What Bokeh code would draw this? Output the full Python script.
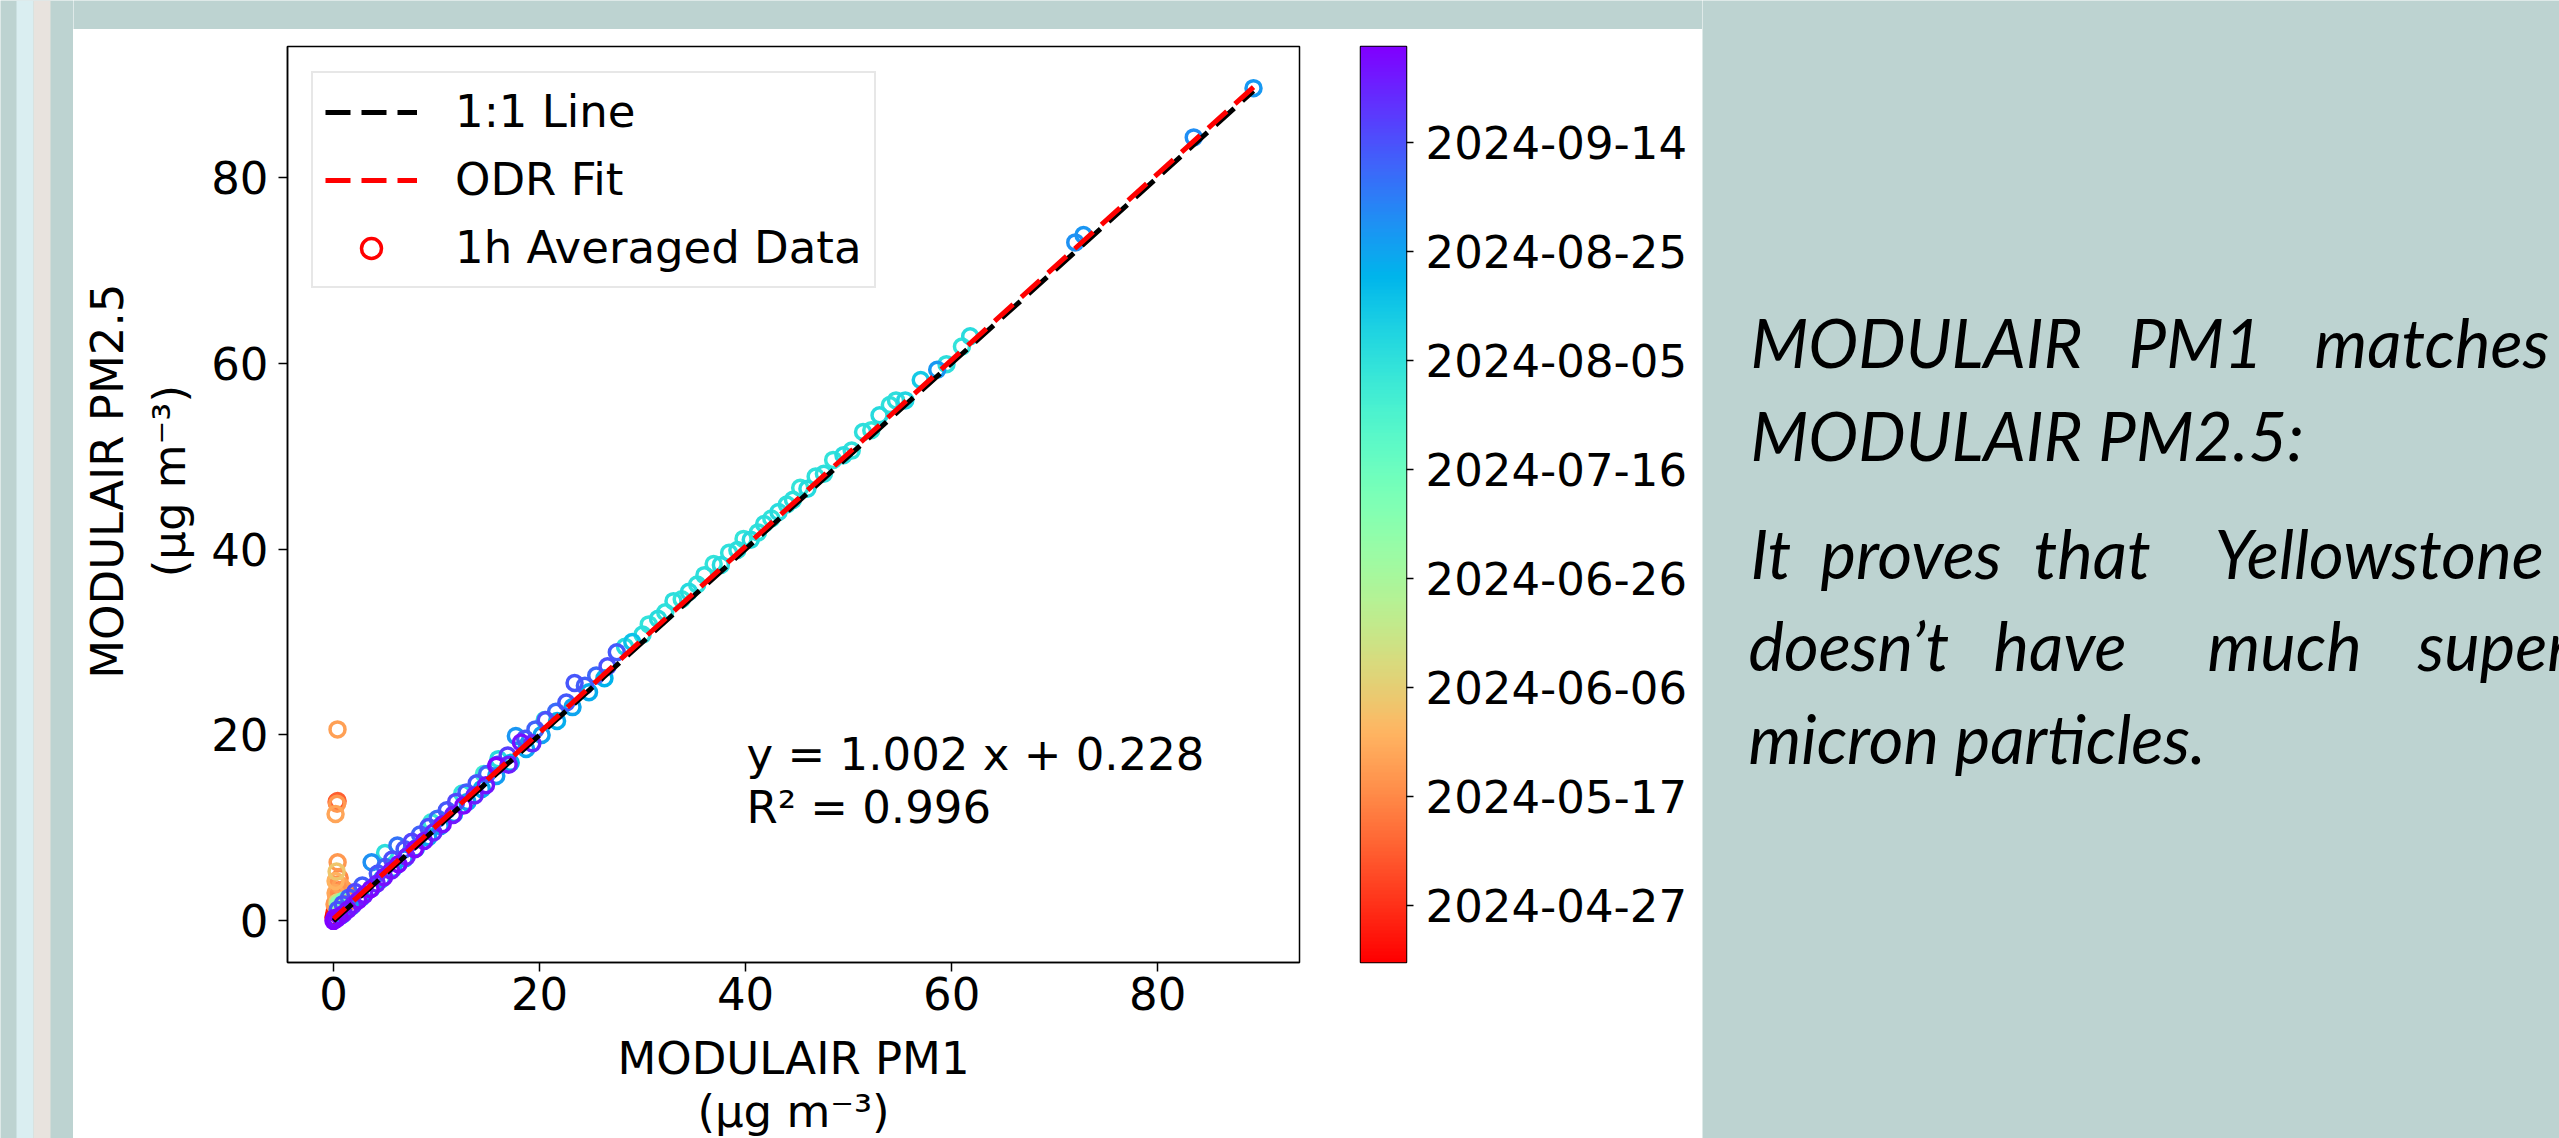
import numpy as np
import pandas as pd
from bokeh.plotting import figure
from bokeh.layouts import row, column
from bokeh.models import Range1d, LinearColorMapper, Legend, LegendItem, FixedTicker
from bokeh.core.properties import value
from bokeh.embed import file_html
from bokeh.resources import INLINE

# ---------------- data ----------------
pm1 = [
    # late September (purple), along / just below the 1:1 line
    0.0, 0.1, 0.3, 0.6, 1.0, 1.4, 1.9, 2.4, 3.0, 3.6, 4.2, 4.9, 5.6, 6.3, 7.1, 7.9,
    8.8, 9.7, 10.6, 11.6, 12.6, 13.7, 14.8, 15.8, 17.0, 18.2, 19.3,
    # mid September (blue), just above the line
    0.4, 0.9, 1.5, 2.1, 2.8, 3.7, 4.3, 5.0, 5.7, 6.2, 6.9, 7.6, 8.4, 9.2, 10.1, 11.0,
    11.9, 12.9, 13.9, 14.9, 15.9, 16.9, 17.7, 18.6, 19.6, 20.6, 21.6, 22.6, 23.4, 24.4,
    25.5, 26.6, 27.5,
    # late August (cyan)
    0.8, 1.7, 2.7, 3.7, 4.7, 5.8, 6.9, 8.0, 9.2, 10.4, 11.7, 13.0, 14.4, 15.8, 17.2,
    18.7, 20.2, 21.7, 23.2, 24.8, 26.3,
    # July / early August (green, teal)
    0.5, 1.0, 5.0, 9.5, 12.5, 14.6, 16.0, 20.5, 28.3, 29.0, 30.0, 30.6, 31.5, 32.2,
    33.0, 33.8, 34.5, 35.3, 36.0, 36.9, 37.6, 38.4, 39.2, 39.8, 40.5, 41.2, 41.8, 42.5,
    43.2, 44.0, 44.6, 45.3, 46.0, 46.8, 47.6, 48.5, 49.5, 50.3, 51.4, 52.2, 53.0, 54.0,
    54.6, 55.5, 57.0, 59.5, 61.0, 61.8,
    # high values, end of August (blue-cyan)
    58.6, 72.0, 72.8, 83.5, 89.3,
    # April - June (red, orange) near PM1 = 0
    0.1, 0.3, 0.2, 0.5, 0.4, 0.2, 0.6, 0.3, 0.8, 1.0, 1.3, 0.7, 0.4, 0.2, 0.35, 0.4,
    0.39, 0.5, 0.9, 1.2, 0.3, 0.4, 0.6, 0.1, 1.5, 0.0,
]
pm25 = [
    0.0, 0.3, 0.2, 0.5, 0.8, 1.2, 1.7, 2.2, 2.8, 3.4, 4.0, 4.7, 5.4, 6.1, 6.9, 7.7,
    8.6, 9.5, 10.4, 11.4, 12.4, 13.5, 14.6, 16.7, 16.8, 19.2, 19.1,
    1.2, 1.8, 2.5, 3.1, 3.8, 6.3, 5.1, 5.8, 6.6, 8.1, 7.7, 8.5, 9.3, 10.1, 11.0, 11.9,
    12.8, 13.8, 14.8, 15.8, 16.8, 17.8, 19.9, 19.6, 20.6, 21.6, 22.5, 23.5, 25.6, 25.3,
    26.4, 27.4, 28.9,
    0.6, 1.5, 2.5, 3.5, 4.5, 5.6, 6.7, 7.8, 9.0, 10.2, 11.5, 12.8, 14.2, 15.6, 17.0,
    18.5, 20.0, 21.5, 23.0, 24.6, 26.1,
    1.8, 2.2, 7.3, 10.6, 13.7, 15.8, 17.4, 21.6, 29.5, 30.0, 30.8, 31.9, 32.5, 33.2,
    34.4, 34.6, 35.4, 36.2, 37.2, 38.4, 38.3, 39.6, 39.9, 41.1, 41.0, 41.8, 42.7, 43.3,
    44.0, 44.8, 45.3, 46.6, 46.5, 47.8, 48.1, 49.6, 50.1, 50.6, 52.6, 52.8, 54.4, 55.5,
    56.0, 56.0, 58.2, 59.9, 61.8, 62.9,
    59.3, 73.0, 73.8, 84.3, 89.6,
    1.8, 2.5, 3.0, 3.3, 3.9, 4.3, 4.6, 5.3, 2.8, 3.4, 3.0, 3.8, 6.3, 11.5, 12.6, 12.9,
    20.6, 2.2, 2.5, 2.6, 12.8, 2.0, 1.5, 0.9, 2.1, 0.4,
]
when = [
    "2024-10-01 14:00", "2024-09-29", "2024-09-27", "2024-09-30", "2024-09-26", "2024-09-28",
    "2024-09-25", "2024-09-29", "2024-09-27", "2024-09-30", "2024-09-24", "2024-09-28",
    "2024-09-26", "2024-09-29", "2024-09-25", "2024-09-30", "2024-09-27", "2024-09-23",
    "2024-09-28", "2024-09-26", "2024-09-29", "2024-09-24", "2024-09-27", "2024-09-30",
    "2024-09-25", "2024-09-28", "2024-09-22",
    "2024-09-12", "2024-09-14", "2024-09-10", "2024-09-16", "2024-09-11", "2024-08-30",
    "2024-09-13", "2024-09-09", "2024-09-15", "2024-09-06", "2024-09-12", "2024-09-17",
    "2024-09-10", "2024-09-14", "2024-09-08", "2024-09-12", "2024-09-16", "2024-09-11",
    "2024-09-13", "2024-09-09", "2024-09-15", "2024-09-18", "2024-08-29", "2024-09-12",
    "2024-09-10", "2024-09-14", "2024-09-08", "2024-09-12", "2024-09-13", "2024-09-11",
    "2024-09-09", "2024-09-14", "2024-09-12",
    "2024-08-24", "2024-08-22", "2024-08-26", "2024-08-20", "2024-08-25", "2024-08-23",
    "2024-08-27", "2024-08-21", "2024-08-24", "2024-08-26", "2024-08-22", "2024-08-25",
    "2024-08-23", "2024-08-27", "2024-08-20", "2024-08-24", "2024-08-26", "2024-08-22",
    "2024-08-25", "2024-08-23", "2024-08-21",
    "2024-07-05", "2024-07-12", "2024-08-06", "2024-08-02", "2024-08-04", "2024-07-30",
    "2024-08-07", "2024-08-05", "2024-08-08", "2024-08-16", "2024-08-06", "2024-08-04",
    "2024-08-07", "2024-08-05", "2024-08-06", "2024-08-03", "2024-08-08", "2024-08-05",
    "2024-08-06", "2024-08-04", "2024-08-07", "2024-08-05", "2024-08-06", "2024-08-03",
    "2024-08-08", "2024-08-05", "2024-08-06", "2024-08-04", "2024-08-07", "2024-08-05",
    "2024-08-06", "2024-08-03", "2024-08-08", "2024-08-05", "2024-08-06", "2024-08-04",
    "2024-08-07", "2024-08-05", "2024-08-06", "2024-08-03", "2024-08-08", "2024-08-05",
    "2024-08-06", "2024-08-10", "2024-08-14", "2024-08-06", "2024-08-04", "2024-08-07",
    "2024-08-28", "2024-08-30", "2024-08-29", "2024-08-31", "2024-08-28",
    "2024-05-22", "2024-05-18", "2024-05-25", "2024-05-15", "2024-05-20", "2024-05-28",
    "2024-05-17", "2024-06-03", "2024-05-12", "2024-05-19", "2024-05-10", "2024-05-23",
    "2024-05-21", "2024-05-24", "2024-05-21", "2024-05-07", "2024-05-23", "2024-04-28",
    "2024-05-02", "2024-05-05", "2024-05-06", "2024-06-12", "2024-06-25", "2024-04-22",
    "2024-05-14", "2024-04-16 14:00",
]

# ODR fit result printed on the chart
fit_slope = 1.002
fit_intercept = 0.228
fit_r2 = 0.996

x_ticks = [0, 20, 40, 60, 80]
y_ticks = [0, 20, 40, 60, 80]
cbar_tick_labels = ["2024-04-27", "2024-05-17", "2024-06-06", "2024-06-26",
                    "2024-07-16", "2024-08-05", "2024-08-25", "2024-09-14"]
x_title = ["MODULAIR PM1", "(\u00b5g m\u207b\u00b3)"]
y_title = ["MODULAIR PM2.5", "(\u00b5g m\u207b\u00b3)"]

# ---------------- helpers ----------------
FONT = "DejaVu Sans"
FS = "45px"
SLIDE_BG = "#BDD3D1"


def rainbow_hex(v):
    # matplotlib "rainbow" colormap
    r = min(1.0, abs(2 * v - 0.5))
    g = np.sin(v * np.pi)
    b = np.cos(v * np.pi / 2)
    return "#%02x%02x%02x" % (int(round(r * 255)), int(round(g * 255)), int(round(max(b, 0) * 255)))


# reversed rainbow: earliest = red, latest = purple
palette = [rainbow_hex(1 - i / 255) for i in range(256)]

EPOCH = pd.Timestamp("1970-01-01")
df = pd.DataFrame({"pm1": pm1, "pm25": pm25, "when": pd.to_datetime(when, format="ISO8601")})
df = df.sort_values("when").reset_index(drop=True)
df["t"] = (df["when"] - EPOCH).dt.total_seconds() / 86400.0
t_min, t_max = df["t"].min(), df["t"].max()
mapper = LinearColorMapper(palette=palette, low=t_min, high=t_max)


def pad(lo, hi, f=0.05):
    d = (hi - lo) * f
    return lo - d, hi + d


xr = pad(df["pm1"].min(), df["pm1"].max())
yr = pad(df["pm25"].min(), df["pm25"].max())


def blank(w, h, bg):
    f = figure(width=w, height=h, output_backend="svg", toolbar_location=None,
               x_axis_location=None, y_axis_location=None, min_border=0,
               outline_line_color=None, background_fill_color=bg, border_fill_color=bg,
               x_range=Range1d(0, w), y_range=Range1d(h, 0))
    f.xgrid.visible = False
    f.ygrid.visible = False
    return f


# ---------------- main scatter ----------------
# page layout: white panel x 73..1702, y 29..1138 ; axes frame x 287..1299, y 46..962
cf = figure(width=1130, height=1001, x_range=Range1d(*xr), y_range=Range1d(*yr),
            output_backend="svg", toolbar_location=None,
            min_border_left=87, min_border_right=31, min_border_top=17, min_border_bottom=68,
            background_fill_color="white", border_fill_color="white")
cf.outline_line_color = "black"
cf.outline_line_width = 1.5
cf.xgrid.visible = False
cf.ygrid.visible = False

sc = cf.scatter(x="pm1", y="pm25", source=df, marker="circle", size=15, fill_color=None,
                line_color={"field": "t", "transform": mapper}, line_width=3.5)

x_line = [df["pm1"].min(), df["pm1"].max()]
one_one = cf.line(x=x_line, y=x_line, line_color="black", line_width=5, line_dash="25 11")
x_fit = x_line[::-1]
odr = cf.line(x=x_fit, y=[fit_slope * v + fit_intercept for v in x_fit], line_color="red",
              line_width=5, line_dash="25 11")

cf.text(x=[40.1, 40.1], y=[17.9, 12.2],
        text=[f"y = {fit_slope:.3f} x + {fit_intercept:.3f}", f"R\u00b2 = {fit_r2:.3f}"],
        text_font=value(FONT), text_font_size=FS, text_baseline="middle", text_color="black")

for ax, ticks in ((cf.xaxis, x_ticks), (cf.yaxis, y_ticks)):
    ax.ticker = FixedTicker(ticks=ticks)
    ax.minor_tick_line_color = None
    ax.major_tick_out = 9
    ax.major_tick_in = 0
    ax.major_tick_line_width = 1.5
    ax.axis_line_width = 1.5
    ax.major_label_text_font = FONT
    ax.major_label_text_font_size = FS
    ax.major_label_text_color = "black"
cf.xaxis.major_label_standoff = 5
cf.yaxis.major_label_standoff = 10

legend = Legend(items=[LegendItem(label="1:1 Line", renderers=[one_one]),
                       LegendItem(label="ODR Fit", renderers=[odr]),
                       LegendItem(label="1h Averaged Data", renderers=[sc], index=0)],
                location=(24, 674))
legend.label_text_font = FONT
legend.label_text_font_size = FS
legend.label_text_color = "black"
legend.glyph_width = 92
legend.glyph_height = 50
legend.label_height = 50
legend.spacing = 15
legend.padding = 12
legend.margin = 0
legend.label_standoff = 38
legend.border_line_color = "#d0d0d0"
legend.border_line_width = 2
legend.background_fill_alpha = 0.8
cf.add_layout(legend)

# axis titles in their own panels (two lines each)
ylab = blank(127, 1001, "white")
ylab.text(x=[34, 96], y=[475, 475], text=y_title, angle=np.pi / 2,
          text_font=value(FONT), text_font_size=FS, text_align="center",
          text_baseline="middle", text_color="black")
xlab = blank(1257, 108, "white")
xlab.text(x=[720, 720], y=[28, 81], text=x_title,
          text_font=value(FONT), text_font_size=FS, text_align="center",
          text_baseline="middle", text_color="black")

# ---------------- colour bar ----------------
cb = figure(width=372, height=1109, x_range=Range1d(0, 1), y_range=Range1d(t_min, t_max),
            output_backend="svg", toolbar_location=None, x_axis_location=None,
            y_axis_location="right",
            min_border_left=30, min_border_right=296, min_border_top=17, min_border_bottom=176,
            background_fill_color="white", border_fill_color="white")
cb.xgrid.visible = False
cb.ygrid.visible = False
cb.outline_line_color = "black"
cb.outline_line_width = 1.5
grad = np.linspace(t_min, t_max, 256).reshape(256, 1)
cb.image(image=[grad], x=0, y=t_min, dw=1, dh=t_max - t_min, color_mapper=mapper)
tick_days = [int((pd.Timestamp(s) - EPOCH).days) for s in cbar_tick_labels]
cax = cb.yaxis[0]
cax.ticker = FixedTicker(ticks=tick_days)
cax.major_label_overrides = {d: s for d, s in zip(tick_days, cbar_tick_labels)}
cax.minor_tick_line_color = None
cax.axis_line_color = None
cax.major_tick_out = 7
cax.major_tick_in = 0
cax.major_tick_line_width = 1.5
cax.major_label_standoff = 12
cax.major_label_text_font = FONT
cax.major_label_text_font_size = FS
cax.major_label_text_color = "black"

# ---------------- slide decoration ----------------
stripes = blank(73, 1138, SLIDE_BG)
stripes.quad(left=[16, 33], right=[33, 50], bottom=[0, 0], top=[1138, 1138],
             fill_color=["#DAEEF1", "#E8E3DE"], line_color=None)
top_strip = blank(1629, 29, SLIDE_BG)

rt = blank(857, 1138, SLIDE_BG)
words = [
    ("MODULAIR", 48, 341), ("PM1", 426, 341), ("matches", 612, 341),
    ("MODULAIR PM2.5:", 48, 434),
    ("It", 48, 552), ("proves", 118, 552), ("that", 331, 552), ("Yellowstone", 512, 552),
    ("doesn\u2019t", 46, 644), ("have", 291, 644), ("much", 505, 644), ("super-", 715, 644),
    ("micron particles.", 46, 737),
]
rt.text(x=[w[1] for w in words], y=[w[2] for w in words], text=[w[0] for w in words],
        text_font=value("Lato"), text_font_style="italic",
        text_font_size="67px", text_color="black", text_baseline="middle")

left_block = column(row(ylab, cf), xlab)
page = row(stripes, column(top_strip, row(left_block, cb)), rt)

with open("out.html", "w") as f:
    f.write(file_html(page, INLINE))
